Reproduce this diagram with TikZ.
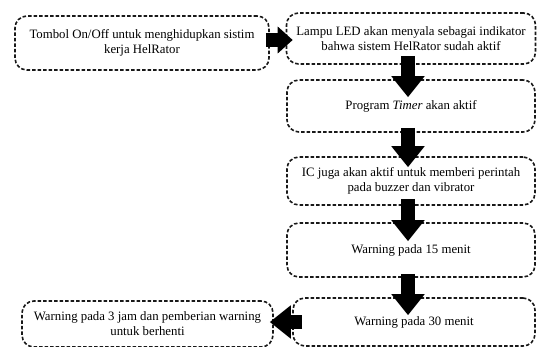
\documentclass[tikz,border=0pt]{standalone}
\usepackage{fontspec}
\setmainfont{Liberation Serif}
\usepackage{tikz}
\usetikzlibrary{arrows.meta}

\tikzset{
  stepbox/.style={draw=black!90, dash pattern=on 3.5pt off 2pt, line width=1.6pt,
    rounded corners=12pt, align=center, inner sep=0pt,
    font=\fontsize{12.8}{15}\selectfont},
  bigarrow/.style={draw=black, line width=14pt,
    -{Triangle[width=32pt,length=21pt]}},
  smallarrow/.style={draw=black, line width=14pt,
    -{Triangle[width=26pt,length=15pt]}}
}

\begin{document}
\begin{tikzpicture}[x=1pt, y=-1pt]
    \useasboundingbox (0,0) rectangle (540,347);

    % Boxes of the flow
    \node[stepbox, minimum width=254pt, minimum height=54pt] (tombol) at (142,43)
        {Tombol On/Off untuk menghidupkan sistim\\kerja HelRator};
    \node[stepbox, minimum width=249pt, minimum height=51pt] (lampu) at (411,38.5)
        {Lampu LED akan menyala sebagai indikator\\bahwa sistem HelRator sudah aktif};
    \node[stepbox, minimum width=248pt, minimum height=52pt] (timer) at (411,106)
        {Program \textit{Timer} akan aktif};
    \node[stepbox, minimum width=248pt, minimum height=48pt] (ic) at (411,181)
        {IC juga akan aktif untuk memberi perintah\\pada buzzer dan vibrator};
    \node[stepbox, minimum width=248pt, minimum height=54pt] (warn15) at (411,250)
        {Warning pada 15 menit};
    \node[stepbox, minimum width=242pt, minimum height=48pt] (warn30) at (414,322)
        {Warning pada 30 menit};
    \node[stepbox, minimum width=251pt, minimum height=46pt] (warn3j) at (147.5,324)
        {Warning pada 3 jam dan pemberian warning\\untuk berhenti};

    % Block arrows
    \draw[smallarrow] ([xshift=-4pt,yshift=3pt]tombol.east) -- ([xshift=7pt,yshift=-1.5pt]lampu.west);
    \draw[bigarrow] ([xshift=-3pt,yshift=9pt]lampu.south) -- ([xshift=-3pt,yshift=-18pt]timer.north);
    \draw[bigarrow] ([xshift=-3pt,yshift=5pt]timer.south) -- ([xshift=-3pt,yshift=-11pt]ic.north);
    \draw[bigarrow] ([xshift=-3pt,yshift=7pt]ic.south) -- ([xshift=-3pt,yshift=-19pt]warn15.north);
    \draw[bigarrow] ([xshift=-3pt,yshift=4pt]warn15.south) -- ([xshift=-6pt,yshift=-18pt]warn30.north);
    \draw[bigarrow] ([xshift=10pt]warn30.west) -- ([xshift=-4pt,yshift=2pt]warn3j.east);
\end{tikzpicture}
\end{document}
